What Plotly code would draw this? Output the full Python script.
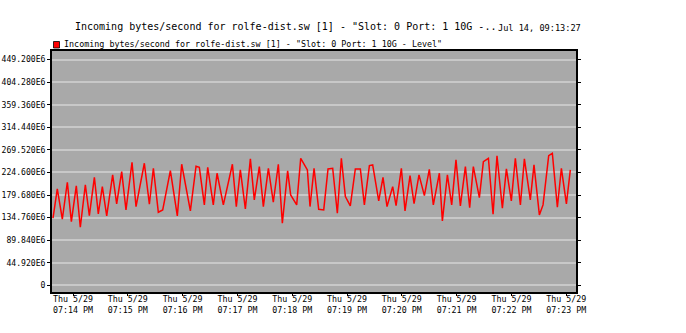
import pandas as pd
import plotly.graph_objects as go

# seconds after 19:13:00 on Thu 5/29
seconds = [38.1, 42.8, 48.3, 53.8, 58.2, 63.6, 68.0, 73.5, 77.9, 83.4, 87.7, 92.1, 96.9, 103.4, 107.8,
           113.3, 118.0, 124.6, 129.0, 138.1, 143.6, 148.0, 153.4, 158.2, 166.6, 174.2, 179.0, 188.5,
           194.7, 198.3, 203.8, 207.5, 213.6, 217.7, 224.6, 234.5, 238.8, 243.2, 248.7, 254.2, 258.5,
           264.0, 268.4, 273.9, 279.3, 284.8, 289.2, 295.0, 298.3, 304.9, 309.3, 316.6, 319.5, 323.9,
           329.0, 334.5, 339.2, 344.3, 349.4, 353.8, 358.2, 363.6, 369.1, 374.6, 379.0, 384.5, 388.1,
           394.7, 399.4, 403.8, 410.0, 413.7, 419.5, 423.5, 429.0, 433.4, 438.8, 444.7, 450.1, 454.5,
           461.1, 464.4, 469.9, 474.6, 479.3, 484.1, 489.6, 494.3, 498.3, 504.9, 509.3, 514.8, 519.9,
           524.2, 530.1, 534.5, 539.9, 544.3, 549.8, 554.2, 560.7, 564.7, 570.6, 574.6, 580.8, 584.8,
           590.3, 594.7, 600.2, 604.5]
# incoming bytes/second, in E6
values = [133.6, 191.8, 131.5, 205.1, 126.9, 197.8, 115.6, 199.8, 138.8, 215.0, 142.1, 196.5, 138.2,
          219.7, 162.0, 226.3, 150.1, 244.9, 156.7, 242.9, 161.4, 232.9, 145.5, 150.1, 228.3, 138.2,
          240.9, 148.1, 236.9, 234.9, 160.0, 234.9, 160.0, 223.0, 160.0, 240.9, 156.7, 229.6, 152.1,
          251.5, 170.0, 236.2, 156.7, 232.9, 165.3, 240.9, 123.6, 227.6, 179.9, 160.0, 252.8, 229.6,
          156.7, 232.9, 151.4, 150.1, 231.6, 232.9, 143.5, 252.8, 176.6, 158.1, 231.6, 231.6, 160.0,
          238.2, 239.6, 168.0, 215.0, 156.7, 196.5, 158.7, 232.9, 148.1, 218.4, 162.7, 219.7, 178.6,
          230.9, 160.0, 223.0, 128.2, 219.7, 160.0, 249.5, 158.1, 236.2, 154.7, 236.2, 174.6, 246.2,
          252.8, 141.5, 257.5, 153.4, 231.6, 168.0, 252.8, 160.0, 251.5, 170.0, 239.6, 140.2, 160.0,
          258.1, 262.8, 155.4, 232.9, 162.0, 229.6]

y_ticks = [0, 44.92, 89.84, 134.76, 179.68, 224.6, 269.52, 314.44, 359.36, 404.28, 449.2]
y_tick_labels = ["0", "44.920E6", "89.840E6", "134.760E6", "179.680E6", "224.600E6",
                 "269.520E6", "314.440E6", "359.360E6", "404.280E6", "449.200E6"]
x_tick_minutes = [14, 15, 16, 17, 18, 19, 20, 21, 22, 23]
x_tick_labels = ["Thu 5/29<br>07:%02d PM" % m for m in x_tick_minutes]

title_text = 'Incoming bytes/second for rolfe-dist.sw [1] - "Slot: 0 Port: 1 10G -..'
date_text = "Jul 14, 09:13:27"
legend_text = 'Incoming bytes/second for rolfe-dist.sw [1] - "Slot: 0 Port: 1 10G - Level"'

base = pd.Timestamp("2014-05-29 19:13:00")
times = [base + pd.Timedelta(seconds=s) for s in seconds]
tick_times = [pd.Timestamp("2014-05-29 19:%02d:00" % m) for m in x_tick_minutes]

FONT = "DejaVu Sans Mono"

fig = go.Figure()
fig.add_trace(go.Scatter(x=times, y=values, mode="lines",
                         line=dict(color="#FF0000", width=1.5), showlegend=False,
                         hoverinfo="skip"))

L, R, T, B = 52, 576, 51, 292   # plot frame in screen pixels
W = R - L
H = B - T

def px(x):
    return (x - L) / W

def py(y):
    return (B - y) / H

fig.update_layout(
    width=686, height=333,
    margin=dict(l=L, r=686 - R, t=T, b=333 - B, pad=0, autoexpand=False),
    paper_bgcolor="white", plot_bgcolor="#A9A9A9",
    font=dict(family=FONT, size=8, color="black"),
    hovermode=False,
    xaxis=dict(type="date", automargin=False,
               range=[base + pd.Timedelta(seconds=37.0), base + pd.Timedelta(seconds=610.7)],
               tickvals=tick_times, ticktext=x_tick_labels,
               showgrid=False, zeroline=False,
               showline=True, linecolor="black", linewidth=2, mirror=True,
               ticks="outside", ticklen=2, tickcolor="black", ticklabelstandoff=-4,
               tickfont=dict(family=FONT, size=8.3, color="black")),
    yaxis=dict(range=[-13.3, 466.3], tickvals=y_ticks, ticktext=y_tick_labels, automargin=False,
               showgrid=True, gridcolor="#C8C8C8", gridwidth=1.5, zeroline=False,
               showline=True, linecolor="black", linewidth=2, mirror="ticks",
               ticks="outside", ticklen=3, tickcolor="black",
               tickfont=dict(family=FONT, size=8.1, color="black")),
    annotations=[
        dict(text=title_text, xref="paper", yref="paper", x=px(73), y=py(27),
             xanchor="left", yanchor="middle", showarrow=False,
             font=dict(family=FONT, size=10, color="black")),
        dict(text=date_text, xref="paper", yref="paper", x=px(496), y=py(28),
             xanchor="left", yanchor="middle", showarrow=False,
             font=dict(family=FONT, size=8.6, color="black")),
        dict(text=legend_text, xref="paper", yref="paper", x=px(62), y=py(44),
             xanchor="left", yanchor="middle", showarrow=False,
             font=dict(family=FONT, size=8.4, color="black")),
    ],
    shapes=[dict(type="rect", xref="paper", yref="paper",
                 x0=px(53.5), x1=px(59.5), y0=py(48), y1=py(41.5),
                 fillcolor="#FF0000", line=dict(color="black", width=0.8))],
)

fig.write_html("out.html", config={"displayModeBar": False},
               post_script="document.body.style.margin='0';")
